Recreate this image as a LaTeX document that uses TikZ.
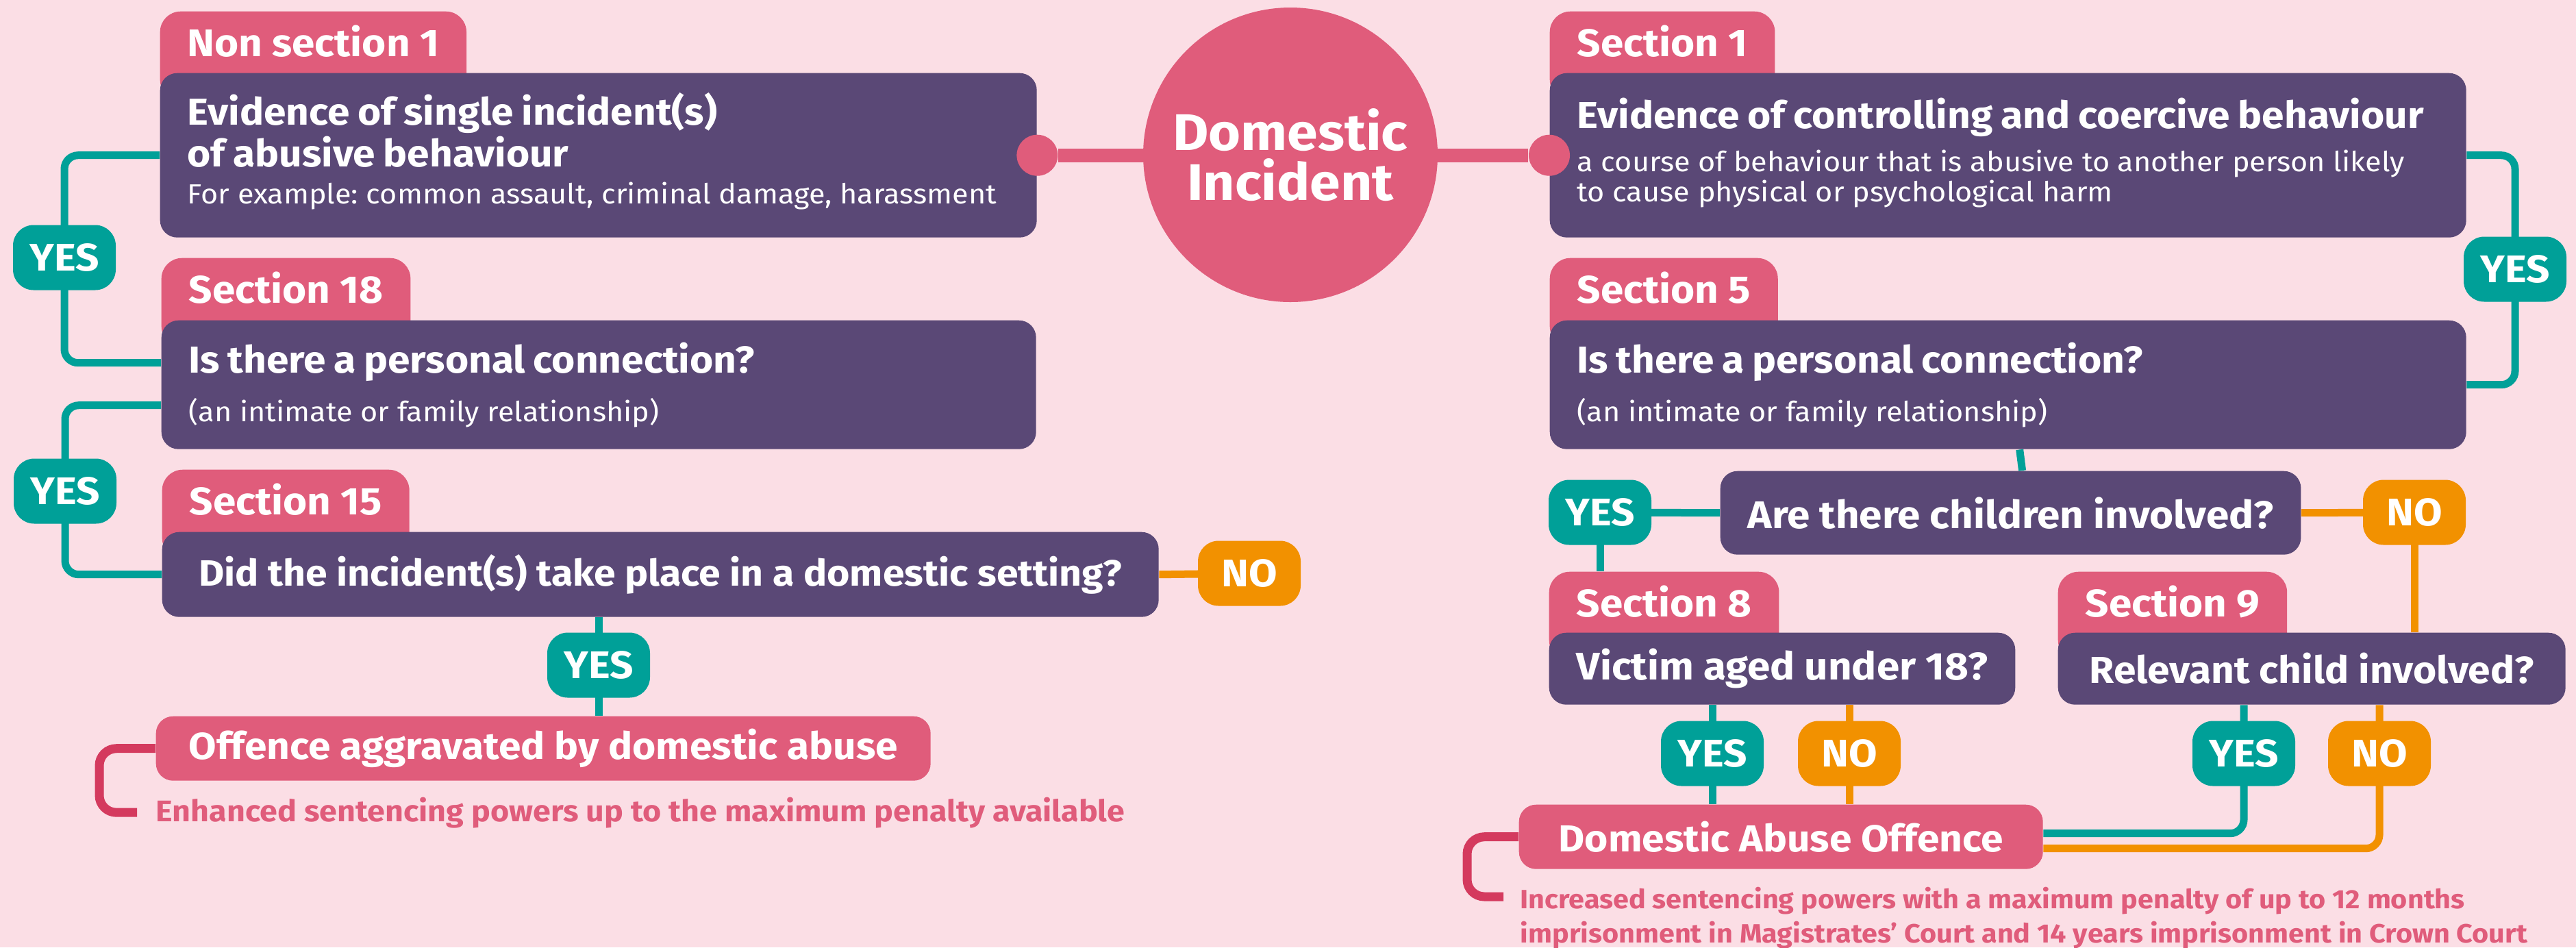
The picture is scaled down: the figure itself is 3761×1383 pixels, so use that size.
\documentclass[tikz,border=0pt]{standalone}
\usepackage{fontspec}
\setmainfont{Fira Sans}[FakeStretch=1.07]
\usepackage{xcolor}
\usepackage{tikz}
\usetikzlibrary{positioning, backgrounds}
\definecolor{blush}{RGB}{251,222,229}
\definecolor{plum}{RGB}{90,72,118}
\definecolor{rose}{RGB}{224,92,123}
\definecolor{crimson}{RGB}{212,58,94}
\definecolor{yesgreen}{RGB}{0,160,152}
\definecolor{noorange}{RGB}{242,145,0}
\newcommand{\boxtitlefont}{\fontsize{15.6}{15.9}\selectfont\bfseries}
\newcommand{\boxsubfont}{\fontsize{11.5}{12.5}\selectfont}
\frenchspacing

\begin{document}
\begin{tikzpicture}[
    x=0.1mm, y=-0.1mm,
    box/.style={
        rectangle,
        fill=plum,
        text=white,
        rounded corners=2.5mm,
        anchor=north west,
        inner xsep=4mm,
        inner ysep=0pt,
        align=left
    },
    question/.style={
        box,
        align=center,
        font=\fontsize{15.6}{18}\selectfont\bfseries
    },
    tabbox/.style={
        rectangle,
        fill=rose,
        text=white,
        rounded corners=3mm,
        anchor=north west,
        inner xsep=4mm,
        inner ysep=0pt,
        text height=6.6mm,
        text depth=6.4mm,
        font=\fontsize{16}{18}\selectfont\bfseries
    },
    outcome/.style={
        rectangle,
        fill=rose,
        text=white,
        rounded corners=2.5mm,
        anchor=north west,
        inner sep=0pt,
        font=\fontsize{15.6}{18}\selectfont\bfseries
    },
    badge/.style={
        rectangle,
        rounded corners=3mm,
        minimum width=15mm,
        minimum height=9.5mm,
        inner sep=0pt,
        text=white,
        font=\fontsize{16}{18}\selectfont\bfseries
    },
    yesbadge/.style={badge, fill=yesgreen},
    nobadge/.style={badge, fill=noorange},
    hub/.style={
        circle,
        fill=rose,
        text=white,
        minimum size=43mm,
        inner sep=0pt,
        align=center,
        font=\fontsize{21.4}{20.8}\selectfont\bfseries
    },
    joint/.style={circle, fill=rose, minimum size=6mm, inner sep=0pt},
    note/.style={text=rose, inner sep=0pt, font=\fontsize{12.4}{14}\selectfont\bfseries},
    link/.style={draw=rose, line width=2mm},
    yesline/.style={draw=yesgreen, line width=1.1mm, rounded corners=2mm},
    noline/.style={draw=noorange, line width=1.1mm, rounded corners=2mm},
    bracket/.style={draw=crimson, line width=1.3mm, rounded corners=2.5mm}
]
\useasboundingbox (0,0) rectangle (3761,1383);

% Centre
\node[hub] (incident) at (1884,226) {Domestic\\Incident};

% Left column
\node[tabbox] (nonsec1) at (233,16) {Non section 1};
\node[box, text width=120mm, minimum height=24mm] (single) at (233,106) {
    {\boxtitlefont Evidence of single incident(s)\\of abusive behaviour\par}
    \vspace{1mm}
    {\boxsubfont For example: common assault, criminal damage, harassment\par}
    \vspace{1.2mm}
};
\node[tabbox] (sec18) at (235,376) {Section 18};
\node[box, text width=119.7mm, minimum height=18.8mm] (connectL) at (235,467) {
    {\boxtitlefont Is there a personal connection?\par}
    \vspace{2.1mm}
    {\boxsubfont (an intimate or family relationship)\par}
};
\node[tabbox] (sec15) at (236,685) {Section 15};
\node[question, minimum width=145.5mm, minimum height=12.4mm, font=\fontsize{15.2}{18}\selectfont\bfseries] (setting) at (236,776)
    {Did the incident(s) take place in a domestic setting?};
\node[outcome, minimum width=113.1mm, minimum height=9.4mm] (aggravated) at (227,1045)
    {Offence aggravated by domestic abuse};
\node[note, anchor=base west] (enhanced) at (227,1199)
    {Enhanced sentencing powers up to the maximum penalty available};

\node[yesbadge] (yesA) at (94,376) {YES};
\node[yesbadge] (yesB) at (95,717) {YES};
\node[nobadge] (noA) at (1824,837) {NO};
\node[yesbadge] (yesC) at (874,971) {YES};

% Right column
\node[tabbox] (sec1) at (2262,16) {Section 1};
\node[box, text width=125.8mm, minimum height=24mm] (coercive) at (2262,106) {
    {\boxtitlefont Evidence of controlling and coercive behaviour\par}
    \vspace{1.9mm}
    {\boxsubfont a course of behaviour that is abusive to another person likely\\to cause physical or psychological harm\par}
    \vspace{0.8mm}
};
\node[tabbox] (sec5) at (2262,376) {Section 5};
\node[box, text width=125.8mm, minimum height=18.8mm] (connectR) at (2262,467) {
    {\boxtitlefont Is there a personal connection?\par}
    \vspace{2.1mm}
    {\boxsubfont (an intimate or family relationship)\par}
};
\node[question, minimum width=84.1mm, minimum height=12.2mm, font=\fontsize{16}{18}\selectfont\bfseries] (children) at (2511,687)
    {Are there children involved?};
\node[tabbox] (sec8) at (2261,834) {Section 8};
\node[question, minimum width=67.9mm, minimum height=10.5mm, font=\fontsize{16}{18}\selectfont\bfseries] (victim) at (2261,923)
    {Victim aged under 18?};
\node[tabbox] (sec9) at (3004,834) {Section 9};
\node[question, minimum width=74.1mm, minimum height=10.5mm] (relevant) at (3004,923)
    {Relevant child involved?};
\node[outcome, minimum width=76.5mm, minimum height=9.4mm] (daoffence) at (2217,1174)
    {Domestic Abuse Offence};
\node[note, anchor=north west, align=left, font=\fontsize{11}{14.3}\selectfont\bfseries] (increased) at (2219,1294)
    {Increased sentencing powers with a maximum penalty of up to 12 months\\imprisonment in Magistrates’ Court and 14 years imprisonment in Crown Court};

\node[yesbadge] (yesD) at (3672,393) {YES};
\node[yesbadge] (yesE) at (2336,748) {YES};
\node[nobadge] (noB) at (3525,748) {NO};
\node[yesbadge] (yesF) at (2500,1100) {YES};
\node[nobadge] (noC) at (2700,1100) {NO};
\node[yesbadge] (yesG) at (3276,1100) {YES};
\node[nobadge] (noD) at (3474,1100) {NO};

% Joints on the link
\node[joint] (jointL) at (single.east) {};
\node[joint] (jointR) at (coercive.west) {};

% Connectors
\begin{scope}[on background layer]
\fill[blush] (0,0) rectangle (3761,1383);
\draw[link] (jointL) -- (jointR);
\draw[yesline] (single.west) -| (yesA.center) |- ([yshift=3.2mm]connectL.west);
\draw[yesline] ([yshift=-3mm]connectL.west) -| (yesB.center) |- (setting.west);
\draw[noline] (setting.east) -- (noA.center);
\draw[yesline] (yesC |- setting.south) -- (yesC |- aggravated.north);
\draw[bracket] (aggravated.west) -- ++(-82,0) |- ([xshift=-2.7mm]enhanced.west);

\draw[yesline] (coercive.east) -| (yesD.center) |- (connectR.east);
\draw[yesline] ([xshift=1.7mm]connectR.south) -- ([xshift=1.7mm]children.north);
\draw[yesline] (yesE.center) -- (children.west);
\draw[yesline] (yesE.center) -- (yesE |- sec8.north);
\draw[noline] (children.east) -- (noB.center);
\draw[noline] (noB.center) -- (noB |- relevant.north);
\draw[yesline] (yesF |- victim.south) -- (yesF |- daoffence.north);
\draw[noline] (noC |- victim.south) -- (noC |- daoffence.north);
\draw[yesline] (yesG |- relevant.south) -- (yesG.center) |- ([yshift=0.5mm]daoffence.east);
\draw[noline] (noD |- relevant.south) -- (noD.center) |- ([yshift=-1.7mm]daoffence.east);
\draw[bracket] (daoffence.west) -- ++(-75,0) |- ([xshift=-2.4mm,yshift=-1.5mm]increased.north west);
\end{scope}

\end{tikzpicture}
\end{document}
